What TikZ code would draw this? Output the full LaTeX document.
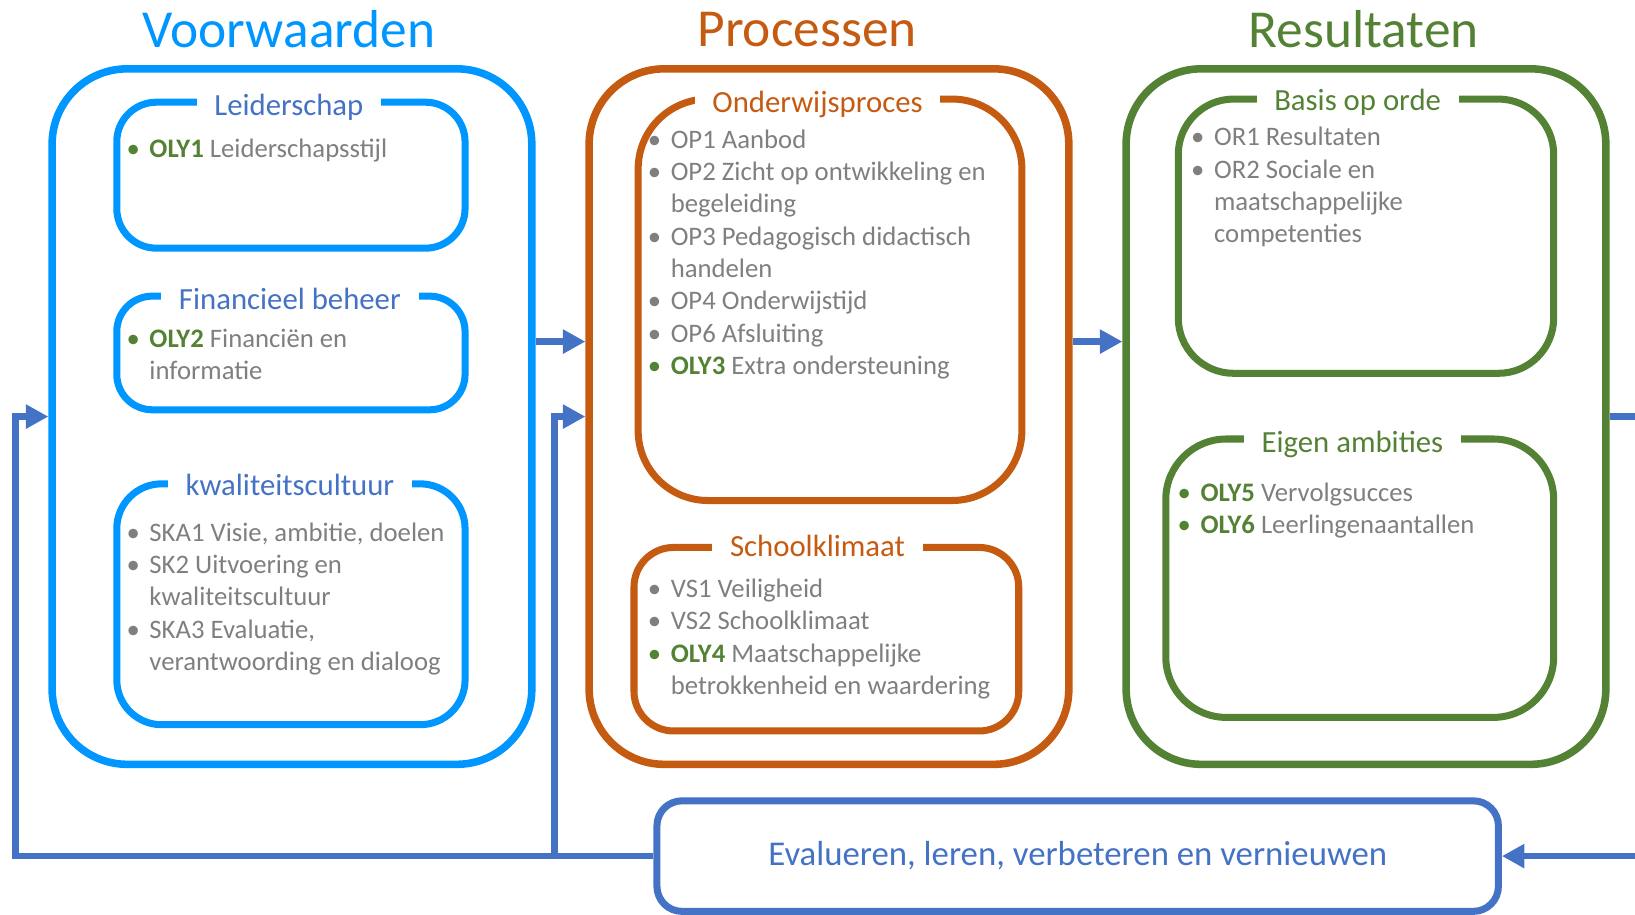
\documentclass[tikz,border=0pt]{standalone}
\usepackage{fontspec}
\setmainfont{Carlito}
\usetikzlibrary{arrows.meta}
\definecolor{blauw}{HTML}{0096FF}
\definecolor{donkerblauw}{HTML}{4472C4}
\definecolor{oranje}{HTML}{C55A11}
\definecolor{groen}{HTML}{548235}
\definecolor{grijs}{HTML}{7F7F7F}
\newlength{\px}
\setlength{\px}{0.020854cm}
\newcommand{\bl}{\textbullet}
\newcommand{\gbl}{\textcolor{groen}{\textbullet}}
\newcommand{\oly}[1]{\textbf{\textcolor{groen}{OLY#1}}}
\newcommand{\opsomming}[1]{\begin{tabular}[t]{@{}p{22\px}@{}l@{}}#1\end{tabular}}

\begin{document}
\begin{tikzpicture}[x=\px,y=-\px,
    kader/.style={draw=#1,line width=4.3pt,rounded corners=72\px,minimum width=460\px,minimum height=667\px},
    blok/.style={draw=#1,line width=4pt,rounded corners=38\px},
    kop/.style={text=#1,font=\fontsize{30.4}{36}\selectfont},
    subkop/.style={text=#1,fill=white,inner xsep=17\px,inner ysep=2pt,font=\fontsize{17.5}{21}\selectfont},
    lijst/.style={anchor=base west,inner sep=0pt,text=grijs,font=\fontsize{15.2}{18.4}\selectfont},
    pijl/.style={draw=donkerblauw,line width=3.8pt,-{Triangle[length=0.45cm,width=0.46cm]}}]
    \useasboundingbox (0,0) rectangle (1568,877.5);
    % de drie kolommen
    \foreach \naam/\x/\tx/\kleur/\titel in {voor/280/277/blauw/Voorwaarden,proc/795/774/oranje/Processen,res/1310/1308/groen/Resultaten}{
        \node[kader=\kleur] (\naam) at (\x,399.5) {};
        \node[kop=\kleur] (\naam-kop) at (\tx,28) {\titel};
    }
    % blokken
    \node[blok=blauw,minimum width=334\px,minimum height=140\px] (leider) at (279,168) {};
    \node[blok=blauw,minimum width=334\px,minimum height=109\px,rounded corners=34\px] (financ) at (279,338.5) {};
    \node[blok=blauw,minimum width=334\px,minimum height=231\px,rounded corners=43\px] (kwal) at (279,579.5) {};
    \node[blok=oranje,minimum width=368\px,minimum height=385\px,rounded corners=67\px] (onderw) at (796,287.5) {};
    \node[blok=oranje,minimum width=369\px,minimum height=176\px] (klimaat) at (792.5,613) {};
    \node[blok=groen,minimum width=360\px,minimum height=263\px,rounded corners=53\px] (basis) at (1310,226.5) {};
    \node[blok=groen,minimum width=372\px,minimum height=267\px,rounded corners=58\px] (eigen) at (1304,554.5) {};
    \node[draw=donkerblauw,line width=4pt,rounded corners=24\px,minimum width=807\px,minimum height=106\px,
        text=donkerblauw,font=\fontsize{19.8}{23}\selectfont] (eval) at (1033.5,821) {Evalueren, leren, verbeteren en vernieuwen};
    % koppen van de blokken
    \node[subkop=donkerblauw] (leider-kop) at (277,103) {Leiderschap};
    \node[subkop=donkerblauw] (financ-kop) at (278,287) {Financieel beheer};
    \node[subkop=donkerblauw] (kwal-kop) at (278,465) {kwaliteitscultuur};
    \node[subkop=oranje] (onderw-kop) at (784,100) {Onderwijsproces};
    \node[subkop=oranje] (klimaat-kop) at (784,524) {Schoolklimaat};
    \node[subkop=groen] (basis-kop) at (1302,98) {Basis op orde};
    \node[subkop=groen] (eigen-kop) at (1297,426) {Eigen ambities};
    % opsommingen
    \node[lijst] (leider-lijst) at (121,151) {\opsomming{\gbl & \oly{1} Leiderschapsstijl}};
    \node[lijst] (financ-lijst) at (121,333) {\opsomming{\gbl & \oly{2} Financiën en\\ & informatie}};
    \node[lijst] (kwal-lijst) at (121,519) {\opsomming{\bl & SKA1 Visie, ambitie, doelen\\ \bl & SK2 Uitvoering en\\ & kwaliteitscultuur\\ \bl & SKA3 Evaluatie,\\ & verantwoording en dialoog}};
    \node[lijst] (onderw-lijst) at (621,142) {\opsomming{\bl & OP1 Aanbod\\ \bl & OP2 Zicht op ontwikkeling en\\ & begeleiding\\ \bl & OP3 Pedagogisch didactisch\\ & handelen\\ \bl & OP4 Onderwijstijd\\ \bl & OP6 Afsluiting\\ \gbl & \oly{3} Extra ondersteuning}};
    \node[lijst] (klimaat-lijst) at (621,573) {\opsomming{\bl & VS1 Veiligheid\\ \bl & VS2 Schoolklimaat\\ \gbl & \oly{4} Maatschappelijke\\ & betrokkenheid en waardering}};
    \node[lijst] (basis-lijst) at (1142,140) {\opsomming{\bl & OR1 Resultaten\\ \bl & OR2 Sociale en\\ & maatschappelijke\\ & competenties}};
    \node[lijst] (eigen-lijst) at (1129,481) {\opsomming{\gbl & \oly{5} Vervolgsucces\\ \gbl & \oly{6} Leerlingenaantallen}};
    % pijlen
    \coordinate (links) at (15,399.5);
    \coordinate (splits) at (532,821);
    \draw[pijl] ([yshift=1.5cm]voor.east) -- ([yshift=1.5cm]proc.west);
    \draw[pijl] ([yshift=1.5cm]proc.east) -- ([yshift=1.5cm]res.west);
    \draw[pijl] (eval.west) -| (links) -- (voor.west);
    \draw[pijl] (splits) |- (proc.west);
    \draw[pijl] (res.east) -- ++(110,0) |- (eval.east);
\end{tikzpicture}
\end{document}
